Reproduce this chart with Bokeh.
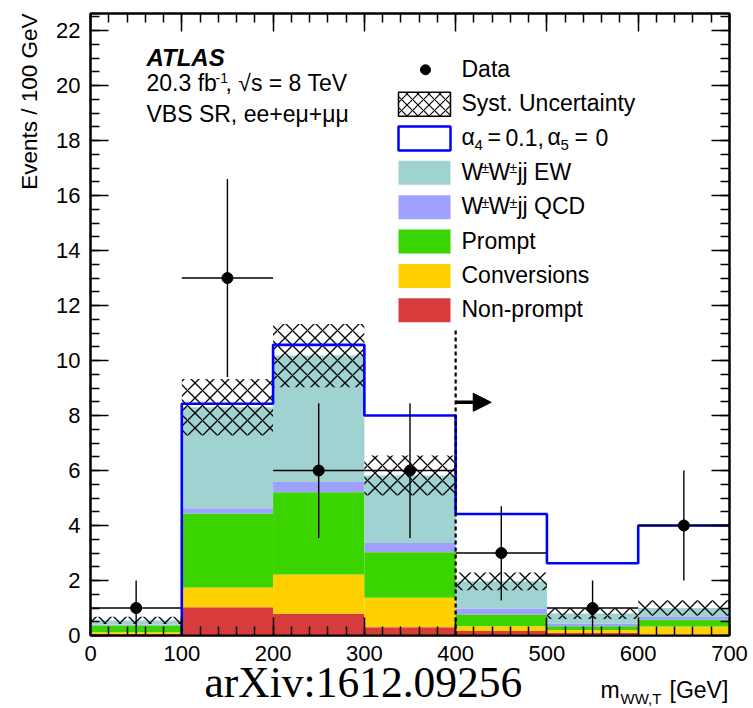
import numpy as np
from math import pi
from bokeh.plotting import figure
from bokeh.layouts import column, row
from bokeh.models import (Range1d, LinearAxis, SingleIntervalTicker, Label, Arrow, NormalHead)
from bokeh.embed import file_html
from bokeh.resources import INLINE

# ---------------- data ----------------
bin_edges = [0, 100, 200, 300, 400, 500, 600, 700]
nonprompt = [0.06, 1.03, 0.79, 0.30, 0.16, 0.10, 0.02]
conversions = [0.06, 0.72, 1.43, 1.07, 0.18, 0.10, 0.31]
prompt = [0.24, 2.69, 2.99, 1.66, 0.42, 0.14, 0.24]
wwjj_qcd = [0.03, 0.19, 0.37, 0.33, 0.22, 0.10, 0.10]
wwjj_ew = [0.16, 3.67, 4.60, 2.46, 0.99, 0.36, 0.33]
syst_unc = [0.13, 1.03, 1.15, 0.73, 0.32, 0.20, 0.28]
alpha4_signal = [0.0, 8.43, 10.57, 8.00, 4.42, 2.63, 4.00]
data_counts = [1, 13, 6, 6, 3, 1, 4]
data_err_up = [1.0, 3.6, 2.45, 2.45, 1.7, 1.0, 2.0]
data_err_dn = [1.0, 3.6, 2.45, 2.45, 1.73, 1.0, 2.0]
cut_value = 400
x_tick_values = [0, 100, 200, 300, 400, 500, 600, 700]
x_tick_labels = ["0", "100", "200", "300", "400", "500", "600", "700"]
y_tick_values = [0, 2, 4, 6, 8, 10, 12, 14, 16, 18, 20, 22]
y_tick_labels = ["0", "2", "4", "6", "8", "10", "12", "14", "16", "18", "20", "22"]

stack_names = ["Non-prompt", "Conversions", "Prompt", "WWjj QCD", "WWjj EW"]
stack_values = [nonprompt, conversions, prompt, wwjj_qcd, wwjj_ew]
stack_colors = ["#d83b3b", "#ffd000", "#3ad400", "#a0a0ff", "#a0d2d2"]

FONT = "Liberation Sans"

# ---------------- layout geometry (page px) ----------------
PAGE_W, PAGE_H = 753, 708
LEFT_W = 82
MAIN_H = 640
FRAME_L, FRAME_R, FRAME_T, FRAME_B = 90, 729, 13, 635
Y_MAX = 22.62
PXX = (FRAME_R - FRAME_L) / 700.0
PXY = (FRAME_B - FRAME_T) / Y_MAX
BASE_FIX = 0.37  # labels render ~0.37 em below the requested baseline

p = figure(width=PAGE_W - LEFT_W, height=MAIN_H, x_range=Range1d(0, 700), y_range=Range1d(0, Y_MAX),
           output_backend="svg", toolbar_location=None,
           min_border_left=FRAME_L - LEFT_W, min_border_right=PAGE_W - FRAME_R,
           min_border_top=FRAME_T, min_border_bottom=MAIN_H - FRAME_B)
p.xgrid.visible = False
p.ygrid.visible = False
p.outline_line_color = "black"
p.outline_line_width = 2
p.background_fill_color = "white"
p.border_fill_color = "white"


def style_axis(ax):
    ax.axis_line_width = 2
    ax.axis_line_color = "black"
    ax.major_tick_in = 18
    ax.major_tick_out = 0
    ax.minor_tick_in = 9
    ax.minor_tick_out = 0
    ax.major_tick_line_width = 1.5
    ax.minor_tick_line_width = 1.5
    ax.major_tick_line_color = "black"
    ax.minor_tick_line_color = "black"
    # tick labels are drawn in the side strips (so that nothing is clipped)
    ax.major_label_text_font_size = "1px"
    ax.major_label_text_color = None
    ax.major_label_standoff = 0


p.xaxis.ticker = SingleIntervalTicker(interval=100, num_minor_ticks=5)
p.yaxis.ticker = SingleIntervalTicker(interval=2, num_minor_ticks=4)
style_axis(p.xaxis[0])
style_axis(p.yaxis[0])

ax_r = LinearAxis(ticker=SingleIntervalTicker(interval=2, num_minor_ticks=4))
style_axis(ax_r)
p.add_layout(ax_r, "right")
ax_t = LinearAxis(ticker=SingleIntervalTicker(interval=100, num_minor_ticks=5))
style_axis(ax_t)
p.add_layout(ax_t, "above")

# ---------------- stack ----------------
edges = np.array(bin_edges, dtype=float)
left, right = edges[:-1], edges[1:]
centers = 0.5 * (left + right)
bottom = np.zeros(len(left))
for vals, col in zip(stack_values, stack_colors):
    top = bottom + np.array(vals)
    p.quad(left=left, right=right, bottom=bottom, top=top, fill_color=col, line_color=None)
    bottom = top
total = bottom

unc = np.array(syst_unc)
p.quad(left=left, right=right, bottom=total - unc, top=total + unc,
       fill_color=None, line_color=None, hatch_pattern="x", hatch_color="black",
       hatch_scale=15, hatch_weight=1.3)

# signal step line (starts at 100 GeV)
xs, ys = [edges[1]], [0.0]
for i in range(1, len(alpha4_signal)):
    xs += [edges[i], edges[i + 1]]
    ys += [alpha4_signal[i], alpha4_signal[i]]
p.line(xs, ys, line_color="#0000ff", line_width=2.6)

# data
d = np.array(data_counts, dtype=float)
p.segment(x0=centers, y0=d - np.array(data_err_dn), x1=centers, y1=d + np.array(data_err_up),
          line_color="black", line_width=1.4)
p.segment(x0=left, y0=d, x1=right, y1=d, line_color="black", line_width=1.4)
p.scatter(centers, d, size=11, color="black")

# cut line and arrow
p.segment(x0=[cut_value], y0=[0], x1=[cut_value], y1=[11.1], line_color="black",
          line_width=2.2, line_dash="4 3")
p.add_layout(Arrow(end=NormalHead(size=18, fill_color="black", line_color="black"),
                   x_start=cut_value, y_start=8.48, x_end=cut_value + 39, y_end=8.48,
                   line_width=3.5, line_color="black"))


# ---------------- text helpers ----------------
def px_x(px):  # page px -> data x
    return (px - FRAME_L) / PXX


def px_y(py):  # page px -> data y
    return (FRAME_B - py) / PXY


def lbl(fig, x, y, text, size=23, style="normal", xoff=0, font=FONT, **kw):
    fig.add_layout(Label(x=x, y=y, x_offset=xoff, text=text, text_font=font,
                         text_font_size=f"{size}px", text_font_style=style,
                         text_baseline=kw.pop("baseline", "alphabetic"),
                         text_align=kw.pop("align", "left"), text_color="black", **kw))


def plbl(px, base_py, text, size=23, **kw):
    """Label in the main plot, placed by page-pixel baseline."""
    lbl(p, px_x(px), px_y(base_py - BASE_FIX * size), text, size=size, **kw)


# ATLAS block
plbl(146, 66, "ATLAS", size=24, style="bold italic")
plbl(146, 91, "20.3 fb", size=23)
plbl(146, 83, "-1", size=14, xoff=69)
plbl(146, 91, ", \u221as = 8 TeV", size=23, xoff=79)
plbl(146, 122, "VBS SR, ee+e\u03bc+\u03bc\u03bc", size=23)

# ---------------- legend ----------------
row_c = [69.3 + 34.35 * i for i in range(8)]
bx0, bx1 = px_x(398), px_x(450)
bh = 24
TXL = 461


def box_rows(i):
    return px_y(row_c[i] + bh / 2), px_y(row_c[i] - bh / 2)


# Data
p.scatter([px_x(425)], [px_y(row_c[0])], size=10, color="black")
plbl(TXL, row_c[0] + 7.5, "Data")
# Syst
b, t = box_rows(1)
p.quad(left=[bx0], right=[bx1], bottom=[b], top=[t], fill_color="white", line_color="black",
       line_width=1.5, hatch_pattern="x", hatch_color="black", hatch_scale=11, hatch_weight=1.1)
plbl(TXL, row_c[1] + 7.5, "Syst. Uncertainty")
# alpha
b, t = box_rows(2)
p.quad(left=[bx0], right=[bx1], bottom=[b], top=[t], fill_color="white", line_color="#0000ff",
       line_width=2.5)
yb = row_c[2] + 7.5
ysub = row_c[2] + 12.5
plbl(TXL, yb, "\u03b1")
plbl(TXL, ysub, "4", size=15, xoff=13)
plbl(TXL, yb, "=", xoff=26)
plbl(TXL, yb, "0.1,", xoff=44)
plbl(TXL, yb, "\u03b1", xoff=86)
plbl(TXL, ysub, "5", size=15, xoff=99)
plbl(TXL, yb, "=", xoff=113)
plbl(TXL, yb, "0", xoff=134)

# stacked components, top to bottom in legend
legend_order = [4, 3, 2, 1, 0]
for k, si in enumerate(legend_order):
    r = 3 + k
    b, t = box_rows(r)
    p.quad(left=[bx0], right=[bx1], bottom=[b], top=[t], fill_color=stack_colors[si],
           line_color=None)
    yb = row_c[r] + 7.5
    name = stack_names[si]
    if name.startswith("WWjj"):
        ysup = row_c[r] + 0.5
        plbl(TXL, yb, "W")
        plbl(TXL, ysup, "\u00b1", size=14, xoff=20)
        plbl(TXL, yb, "W", xoff=27)
        plbl(TXL, ysup, "\u00b1", size=14, xoff=48)
        plbl(TXL, yb, "jj " + name.split()[1], xoff=56)
    else:
        plbl(TXL, yb, name)

# ---------------- left strip: y tick labels and y-axis title ----------------
# x in page pixels, y on the same data scale as the main plot
ls = figure(width=LEFT_W, height=PAGE_H, x_range=Range1d(0, LEFT_W),
            y_range=Range1d(px_y(PAGE_H), px_y(0)),
            x_axis_type=None, y_axis_type=None, output_backend="svg", toolbar_location=None,
            min_border=0, outline_line_color=None)
ls.xgrid.visible = False
ls.ygrid.visible = False
TICK_FS = 22
for v, t in zip(y_tick_values, y_tick_labels):
    # baseline sits half a cap height below the tick
    lbl(ls, 80, v - (0.36 - BASE_FIX) * TICK_FS / PXY, t, size=TICK_FS, align="right")
lbl(ls, 37 - BASE_FIX * 22.5, px_y(13), "Events / 100 GeV", size=22.5, angle=pi / 2, align="right")

# ---------------- footer: x tick labels, x-axis title and watermark ----------------
# x on the same data scale as the main plot; y in page pixels
ft = figure(width=PAGE_W - LEFT_W, height=PAGE_H - MAIN_H,
            x_range=Range1d(px_x(LEFT_W), px_x(PAGE_W)), y_range=Range1d(PAGE_H, MAIN_H),
            x_axis_type=None, y_axis_type=None,
            output_backend="svg", toolbar_location=None, min_border=0, outline_line_color=None)
ft.xgrid.visible = False
ft.ygrid.visible = False


def flbl(x, base_py, text, size=22, **kw):
    lbl(ft, x, base_py - BASE_FIX * size, text, size=size, **kw)


for v, t in zip(x_tick_values, x_tick_labels):
    flbl(v, 661, t, size=TICK_FS, align="center")

flbl(px_x(600), 698, "m", size=23)
flbl(px_x(620), 704, "WW,T", size=15)
flbl(px_x(669), 698, "[GeV]", size=23)
flbl(px_x(204), 698, "arXiv:1612.09256", size=43.5, font="Liberation Serif")

layout = row(ls, column(row(p, spacing=0), row(ft, spacing=0), spacing=0), spacing=0)
open("out.html", "w").write(file_html(layout, INLINE))
